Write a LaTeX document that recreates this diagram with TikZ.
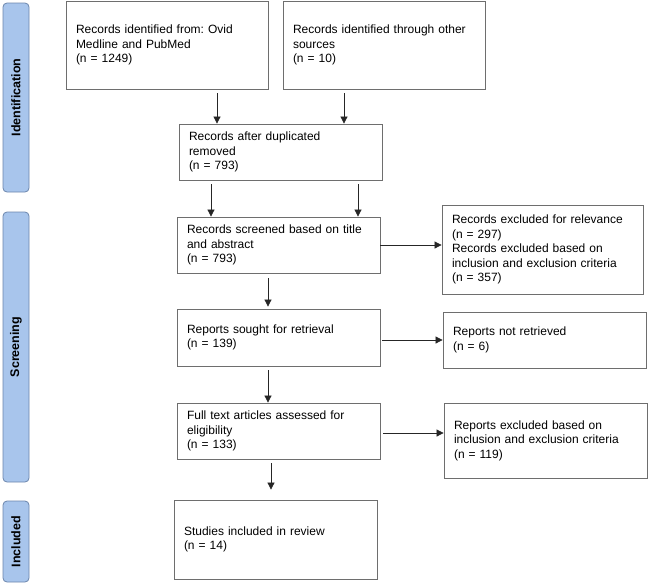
\documentclass[tikz,border=0pt]{standalone}
\usepackage{fontspec}
\setmainfont{Liberation Sans}
\frenchspacing
\usetikzlibrary{arrows.meta}
\definecolor{barfill}{HTML}{A8C5EC}
\definecolor{barline}{HTML}{6C86AC}
\definecolor{boxline}{HTML}{6E6E6E}
\begin{document}
\begin{tikzpicture}[x=1pt,y=-1pt,
	box/.style={draw=boxline,line width=0.8pt,rectangle,inner xsep=10pt,inner ysep=0pt,align=left,font=\fontsize{12}{14.5}\selectfont},
	bar/.style={draw=barline,fill=barfill,line width=0.8pt,rounded corners=4pt,minimum width=26pt,inner sep=0pt},
	barlabel/.style={rotate=90,font=\bfseries\fontsize{12.5}{14}\selectfont},
	arr/.style={-{Triangle[length=7pt,width=7pt]},line width=0.7pt,black!85}]
	\useasboundingbox (0,0) rectangle (648,584);
	\node [bar,minimum height=189pt] (barid) at (16,97.5) {};
	\node [barlabel] at (barid) {Identification};
	\node [bar,minimum height=270pt] (barscr) at (16,347) {};
	\node [barlabel] at (barscr) {Screening};
	\node [bar,minimum height=81pt] (barinc) at (16,541.5) {};
	\node [barlabel] at (barinc) {Included};
	\node [box,text width=182pt,minimum height=88pt] (idA) at (167,45) {Records identified from: Ovid\\Medline and PubMed\\(n = 1249)};
	\node [box,text width=182pt,minimum height=88pt] (idB) at (384,45) {Records identified through other\\sources\\(n = 10)};
	\node [box,text width=183pt,minimum height=56pt] (dedup) at (280.5,152) {Records after duplicated\\removed\\(n = 793)};
	\node [box,text width=183pt,minimum height=56pt] (screen) at (278.5,245) {Records screened based on title\\and abstract\\(n = 793)};
	\node [box,text width=183pt,minimum height=57pt] (sought) at (278.5,337.5) {Reports sought for retrieval\\(n = 139)};
	\node [box,text width=183pt,minimum height=56pt] (assess) at (278.5,431) {Full text articles assessed for\\eligibility\\(n = 133)};
	\node [box,text width=183pt,minimum height=79pt] (incl) at (275.5,539.5) {Studies included in review\\(n = 14)};
	\node [box,text width=181pt,minimum height=89pt] (excl1) at (542.5,249.5) {Records excluded for relevance\\(n = 297)\\Records excluded based on\\inclusion and exclusion criteria\\(n = 357)};
	\node [box,text width=183pt,minimum height=56pt] (excl2) at (544.5,340) {Reports not retrieved\\(n = 6)};
	\node [box,text width=183pt,minimum height=75pt] (excl3) at (545.5,440.5) {Reports excluded based on\\inclusion and exclusion criteria\\(n = 119)};
	\draw [arr,shorten <=4pt] (idA.south -| 217,0) -- (dedup.north -| 217,0);
	\draw [arr,shorten <=4pt] (idB.south -| 344,0) -- (dedup.north -| 344,0);
	\draw [arr,shorten <=4pt] (dedup.south -| 211,0) -- (screen.north -| 211,0);
	\draw [arr,shorten <=4pt] (dedup.south -| 358,0) -- (screen.north -| 358,0);
	\draw [arr,shorten <=5pt,shorten >=2pt] (screen.south -| 268,0) -- (sought.north -| 268,0);
	\draw [arr,shorten <=4pt] (sought.south -| 268,0) -- (assess.north -| 268,0);
	\draw [arr,shorten <=4pt,shorten >=10pt] (assess.south -| 271,0) -- (incl.north -| 271,0);
	\draw [arr] (screen.east |- 0,245) -- (excl1.west |- 0,245);
	\draw [arr,shorten <=2pt] (sought.east |- 0,340) -- (excl2.west |- 0,340);
	\draw [arr,shorten <=3pt] (assess.east |- 0,433) -- (excl3.west |- 0,433);
\end{tikzpicture}
\end{document}
